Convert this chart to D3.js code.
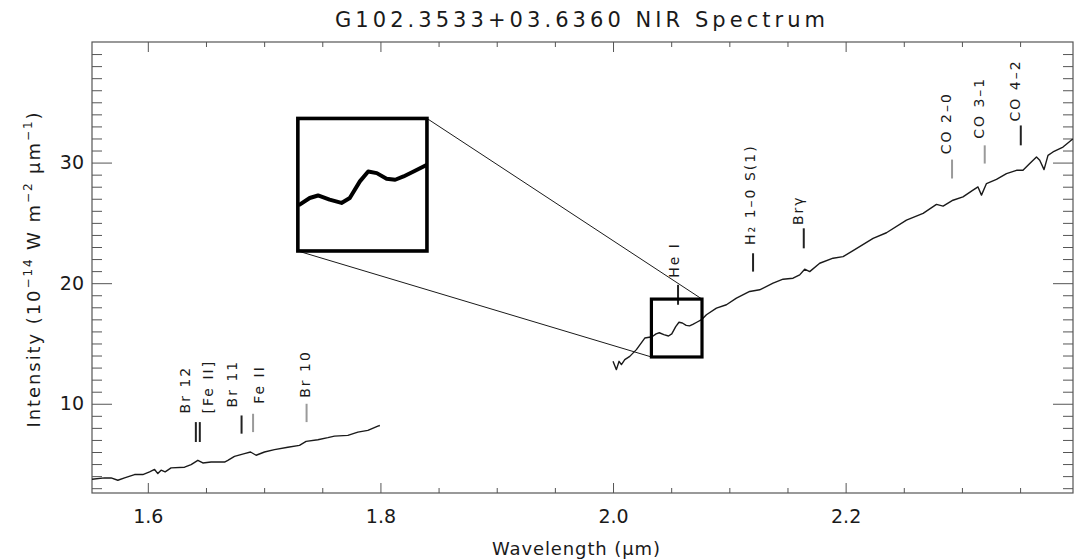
<!DOCTYPE html>
<html>
<head>
<meta charset="utf-8">
<script src="https://cdn.jsdelivr.net/npm/d3@7"></script>
<style>
  html, body { margin: 0; padding: 0; background: #fff; }
  svg { display: block; font-family: "DejaVu Sans", sans-serif; }
</style>
</head>
<body>
<svg id="chart" width="1076" height="560"></svg>
<script>
// ---------------- data ----------------
const titleText = "G102.3533+03.6360 NIR Spectrum";
const xTickMajor = [1.6, 1.8, 2.0, 2.2];
const xTickLabels = ["1.6", "1.8", "2.0", "2.2"];
const yTickMajor = [10, 20, 30];
const yTickLabels = ["10", "20", "30"];

// H band segment
const hWave = [1.5520, 1.5628, 1.5684, 1.5742, 1.5800, 1.5886, 1.5957, 1.6015, 1.6058, 1.6086,
  1.6114, 1.6149, 1.6200, 1.6316, 1.6372, 1.6430, 1.6473, 1.6544, 1.6660, 1.6688,
  1.6745, 1.6831, 1.6883, 1.6931, 1.7003, 1.7089, 1.7204, 1.7304, 1.7361, 1.7462,
  1.7548, 1.7605, 1.7720, 1.7806, 1.7892, 1.7978, 1.7995];
const hFlux = [3.74, 3.85, 3.85, 3.66, 3.85, 4.13, 4.13, 4.35, 4.55, 4.21,
  4.49, 4.35, 4.68, 4.74, 4.96, 5.31, 5.09, 5.17, 5.17, 5.31,
  5.64, 5.87, 6.00, 5.73, 6.00, 6.20, 6.39, 6.55, 6.88, 7.02,
  7.19, 7.32, 7.38, 7.65, 7.79, 8.15, 8.20];

// K band segment
const kWave = [2.0000, 2.0029, 2.0052, 2.0072, 2.0101, 2.0144, 2.0201, 2.0273, 2.0336, 2.0370,
  2.0398, 2.0437, 2.0477, 2.0505, 2.0539, 2.0567, 2.0596, 2.0629, 2.0658, 2.0686,
  2.0720, 2.0765, 2.0803, 2.0889, 2.0975, 2.1061, 2.1175, 2.1261, 2.1376, 2.1462,
  2.1548, 2.1605, 2.1648, 2.1691, 2.1777, 2.1892, 2.1978, 2.2064, 2.2236, 2.2351,
  2.2523, 2.2666, 2.2781, 2.2838, 2.2923, 2.3009, 2.3095, 2.3138, 2.3168, 2.3211,
  2.3297, 2.3383, 2.3469, 2.3525, 2.3583, 2.3641, 2.3669, 2.3706, 2.3740, 2.3783,
  2.3869, 2.3953];
const kFlux = [13.52, 12.83, 13.52, 13.25, 13.66, 13.93, 14.49, 15.45, 15.56, 15.80,
  15.89, 15.74, 15.62, 15.80, 16.40, 16.76, 16.70, 16.50, 16.46, 16.58,
  16.76, 17.00, 17.38, 17.93, 18.21, 18.76, 19.31, 19.45, 20.00, 20.33,
  20.41, 20.69, 21.16, 20.96, 21.65, 22.07, 22.20, 22.70, 23.72, 24.18,
  25.23, 25.79, 26.53, 26.39, 26.88, 27.16, 27.71, 27.98, 27.30, 28.26,
  28.60, 29.09, 29.36, 29.36, 29.92, 30.46, 30.19, 29.42, 30.60, 30.88,
  31.29, 31.95];

// spectral line identifications
const lineNames = ["Br 12", "[Fe II]", "Br 11", "Fe II", "Br 10", "He I", "H\u2082 1\u20130 S(1)", "Br\u03B3", "CO 2\u20130", "CO 3\u20131", "CO 4\u20132"];
const lineWave = [1.6413, 1.6447, 1.6806, 1.6905, 1.7365, 2.0559, 2.1204, 2.1640, 2.2915, 2.3196, 2.3506];
const lineLow = [6.83, 6.83, 7.52, 7.65, 8.48, 18.21, 20.96, 22.89, 28.68, 29.92, 31.43];
const lineHigh = [8.48, 8.48, 9.03, 9.17, 10.0, 19.86, 22.48, 24.55, 30.25, 31.43, 33.08];
const labelWave = [1.6318, 1.6516, 1.6722, 1.6954, 1.7350, 2.0522, 2.1175, 2.1588, 2.2860, 2.3145, 2.3454];
const labelBase = [9.2, 9.2, 9.7, 10.0, 10.5, 20.44, 23.17, 24.82, 30.69, 31.97, 33.41];
const lineShade = ["dark", "dark", "dark", "light", "light", "dark", "dark", "dark", "light", "light", "dark"];

// zoomed region and inset placement (data coordinates)
const zoomWave = [2.033, 2.0765];
const zoomFlux = [13.88, 18.68];
const insetWave = [1.729, 1.840];
const insetFlux = [22.67, 33.66];

// ---------------- drawing ----------------
const svg = d3.select("#chart");
const L = 92, R = 1073, T = 42, B = 493;
const x = d3.scaleLinear().domain([1.552, 2.3955]).range([L, R]);
const y = d3.scaleLinear().domain([2.6, 40]).range([B, T]);
const ink = "#1a1a1a";
const axisColor = "#555";

const xMinor = d3.range(1.6, 2.36, 0.05).map(v => +v.toFixed(2)).filter(v => !xTickMajor.some(m => Math.abs(m - v) < 1e-6));
const yMinor = d3.range(3, 40, 1).filter(v => !yTickMajor.includes(v));

function styleAxis(g) {
  g.select(".domain").remove();
  g.selectAll(".tick line").attr("stroke", axisColor).attr("stroke-width", 1);
  g.selectAll(".tick text").attr("fill", ink).attr("font-size", 19).attr("font-family", "DejaVu Sans, sans-serif");
}

svg.append("g").attr("transform", `translate(0,${B})`)
  .call(d3.axisBottom(x).tickValues(xTickMajor).tickFormat((d, i) => xTickLabels[i]).tickSizeInner(-10).tickSizeOuter(0).tickPadding(17))
  .call(styleAxis);
svg.append("g").attr("transform", `translate(0,${B})`)
  .call(d3.axisBottom(x).tickValues(xMinor).tickFormat("").tickSizeInner(-5).tickSizeOuter(0))
  .call(styleAxis);
svg.append("g").attr("transform", `translate(0,${T})`)
  .call(d3.axisTop(x).tickValues(xTickMajor).tickFormat("").tickSizeInner(-10).tickSizeOuter(0))
  .call(styleAxis);
svg.append("g").attr("transform", `translate(0,${T})`)
  .call(d3.axisTop(x).tickValues(xMinor).tickFormat("").tickSizeInner(-5).tickSizeOuter(0))
  .call(styleAxis);
svg.append("g").attr("transform", `translate(${L},0)`)
  .call(d3.axisLeft(y).tickValues(yTickMajor).tickFormat((d, i) => yTickLabels[i]).tickSizeInner(-20).tickSizeOuter(0).tickPadding(8))
  .call(styleAxis);
svg.append("g").attr("transform", `translate(${L},0)`)
  .call(d3.axisLeft(y).tickValues(yMinor).tickFormat("").tickSizeInner(-10).tickSizeOuter(0))
  .call(styleAxis);
svg.append("g").attr("transform", `translate(${R},0)`)
  .call(d3.axisRight(y).tickValues(yTickMajor).tickFormat("").tickSizeInner(-20).tickSizeOuter(0))
  .call(styleAxis);
svg.append("g").attr("transform", `translate(${R},0)`)
  .call(d3.axisRight(y).tickValues(yMinor).tickFormat("").tickSizeInner(-10).tickSizeOuter(0))
  .call(styleAxis);

svg.append("rect").attr("x", L).attr("y", T).attr("width", R - L).attr("height", B - T)
  .attr("fill", "none").attr("stroke", axisColor).attr("stroke-width", 1.2);

svg.append("text").attr("x", 580).attr("y", 27).attr("text-anchor", "middle")
  .attr("font-size", 21).attr("fill", ink)
  .attr("textLength", 490).attr("lengthAdjust", "spacing")
  .text(titleText);

svg.append("text").attr("x", 576).attr("y", 555).attr("text-anchor", "middle")
  .attr("font-size", 18).attr("fill", ink)
  .attr("textLength", 168).attr("lengthAdjust", "spacing")
  .text("Wavelength (\u03BCm)");

const yl = svg.append("text").attr("transform", "translate(40,270) rotate(-90)")
  .attr("text-anchor", "middle").attr("font-size", 18).attr("fill", ink)
  .attr("textLength", 315).attr("lengthAdjust", "spacing");
yl.append("tspan").text("Intensity (10");
yl.append("tspan").attr("dy", -8).attr("font-size", 12).text("\u221214");
yl.append("tspan").attr("dy", 8).text(" W m");
yl.append("tspan").attr("dy", -8).attr("font-size", 12).text("\u22122");
yl.append("tspan").attr("dy", 8).text(" \u03BCm");
yl.append("tspan").attr("dy", -8).attr("font-size", 12).text("\u22121");
yl.append("tspan").attr("dy", 8).text(")");

const line = d3.line().x(d => x(d[0])).y(d => y(d[1]));
const hData = hWave.map((w, i) => [w, hFlux[i]]);
const kData = kWave.map((w, i) => [w, kFlux[i]]);
[hData, kData].forEach(seg => {
  svg.append("path").datum(seg).attr("d", line)
    .attr("fill", "none").attr("stroke", ink).attr("stroke-width", 1.4).attr("stroke-linejoin", "round");
});

lineNames.forEach((name, i) => {
  svg.append("line")
    .attr("x1", x(lineWave[i])).attr("x2", x(lineWave[i]))
    .attr("y1", y(lineLow[i])).attr("y2", y(lineHigh[i]))
    .attr("stroke", lineShade[i] === "dark" ? "#222" : "#9a9a9a")
    .attr("stroke-width", 2);
  svg.append("text")
    .attr("transform", `translate(${x(labelWave[i])},${y(labelBase[i])}) rotate(-90)`)
    .attr("dy", "0.36em").attr("text-anchor", "start")
    .attr("font-size", 14).attr("letter-spacing", 2).attr("fill", ink)
    .text(name);
});

const zx0 = x(zoomWave[0]), zx1 = x(zoomWave[1]), zy0 = y(zoomFlux[1]), zy1 = y(zoomFlux[0]);
const ix0 = x(insetWave[0]), ix1 = x(insetWave[1]), iy0 = y(insetFlux[1]), iy1 = y(insetFlux[0]);

svg.append("line").attr("x1", ix1).attr("y1", iy0).attr("x2", zx1).attr("y2", zy0)
  .attr("stroke", ink).attr("stroke-width", 1);
svg.append("line").attr("x1", ix0).attr("y1", iy1).attr("x2", zx0).attr("y2", zy1)
  .attr("stroke", ink).attr("stroke-width", 1);

svg.append("rect").attr("x", zx0).attr("y", zy0).attr("width", zx1 - zx0).attr("height", zy1 - zy0)
  .attr("fill", "none").attr("stroke", "#000").attr("stroke-width", 3.2);

const insetX = d3.scaleLinear().domain(zoomWave).range([ix0, ix1]);
const insetY = d3.scaleLinear().domain(zoomFlux).range([iy1, iy0]);
svg.append("clipPath").attr("id", "insetClip").append("rect")
  .attr("x", ix0).attr("y", iy0).attr("width", ix1 - ix0).attr("height", iy1 - iy0);
svg.append("rect").attr("x", ix0).attr("y", iy0).attr("width", ix1 - ix0).attr("height", iy1 - iy0)
  .attr("fill", "#fff");
svg.append("path").datum(kData)
  .attr("d", d3.line().x(d => insetX(d[0])).y(d => insetY(d[1])))
  .attr("clip-path", "url(#insetClip)")
  .attr("fill", "none").attr("stroke", "#000").attr("stroke-width", 4).attr("stroke-linejoin", "round");
svg.append("rect").attr("x", ix0).attr("y", iy0).attr("width", ix1 - ix0).attr("height", iy1 - iy0)
  .attr("fill", "none").attr("stroke", "#000").attr("stroke-width", 3.6);
</script>
</body>
</html>
